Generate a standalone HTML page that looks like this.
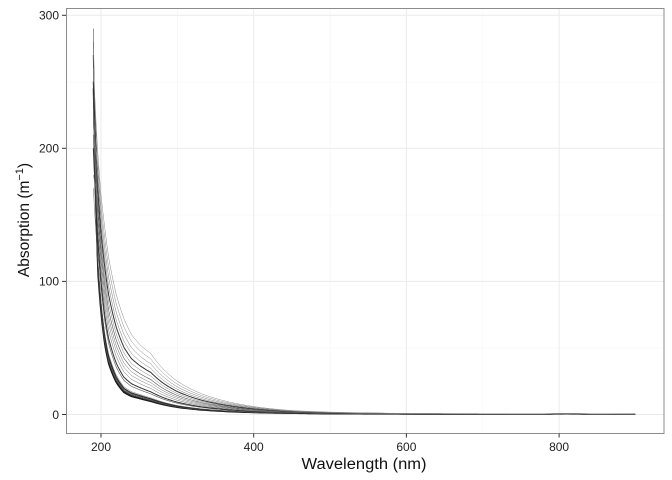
<!DOCTYPE html>
<html><head><meta charset="utf-8">
<style>
html,body{margin:0;padding:0;background:#fff;}
svg{display:block;font-family:"Liberation Sans","DejaVu Sans",sans-serif;}
</style></head>
<body>
<svg id="s" width="672" height="480" viewBox="0 0 672 480" xmlns="http://www.w3.org/2000/svg">
<rect x="0" y="0" width="672" height="480" fill="#fff"/>
<!-- minor grid -->
<g stroke="#f4f4f4" stroke-width="0.6">
<line x1="177.4" y1="8" x2="177.4" y2="433"/>
<line x1="330.1" y1="8" x2="330.1" y2="433"/>
<line x1="482.8" y1="8" x2="482.8" y2="433"/>
<line x1="66" y1="348" x2="664" y2="348"/>
<line x1="66" y1="215" x2="664" y2="215"/>
<line x1="66" y1="82" x2="664" y2="82"/>
</g>
<!-- major grid -->
<g stroke="#ebebeb" stroke-width="1">
<line x1="101" y1="8" x2="101" y2="433"/>
<line x1="253.7" y1="8" x2="253.7" y2="433"/>
<line x1="406.4" y1="8" x2="406.4" y2="433"/>
<line x1="559.1" y1="8" x2="559.1" y2="433"/>
<line x1="66" y1="414.5" x2="664" y2="414.5"/>
<line x1="66" y1="281.4" x2="664" y2="281.4"/>
<line x1="66" y1="148.3" x2="664" y2="148.3"/>
<line x1="66" y1="15.3" x2="664" y2="15.3"/>
</g>
<g id="curves" fill="none" stroke-linejoin="round"></g>
<rect x="66.5" y="8.5" width="597.5" height="425" fill="none" stroke="#8c8c8c" stroke-width="1"/>
<!-- ticks -->
<g stroke="#333" stroke-width="1">
<line x1="62" y1="414.5" x2="66" y2="414.5"/>
<line x1="62" y1="281.4" x2="66" y2="281.4"/>
<line x1="62" y1="148.3" x2="66" y2="148.3"/>
<line x1="62" y1="15.3" x2="66" y2="15.3"/>
<line x1="101" y1="433.5" x2="101" y2="437.5"/>
<line x1="253.7" y1="433.5" x2="253.7" y2="437.5"/>
<line x1="406.4" y1="433.5" x2="406.4" y2="437.5"/>
<line x1="559.1" y1="433.5" x2="559.1" y2="437.5"/>
</g>
<g font-size="12" fill="#222" text-anchor="end">
<text x="59" y="418.8">0</text>
<text x="59" y="285.7">100</text>
<text x="59" y="152.6">200</text>
<text x="59" y="19.6">300</text>
</g>
<g font-size="12" fill="#222" text-anchor="middle">
<text x="101" y="451">200</text>
<text x="253.7" y="451">400</text>
<text x="406.4" y="451">600</text>
<text x="559.1" y="451">800</text>
</g>
<text x="364" y="469" font-size="15.5" fill="#111" text-anchor="middle" textLength="125" lengthAdjust="spacingAndGlyphs">Wavelength (nm)</text>
<text transform="translate(29,220) rotate(-90)" font-size="15.5" fill="#111" text-anchor="middle">Absorption (m<tspan dy="-6" font-size="11">−1</tspan><tspan dy="6">)</tspan></text>
</svg>
<script>
(function(){
var L=[[196,105],[200,76],[205,52],[210,38],[220,24],[230,16.5],[240,13.5],[250,12],[260,10.5],[265,9.8],[270,9],[280,7.5],[300,5.3],[330,3.4],[360,2.3],[400,1.4],[450,0.85],[500,0.5],[600,0.3],[700,0.22],[780,0.25],[810,0.45],[840,0.25],[900,0.18]];
var H=[[196,195],[200,165],[205,140],[210,118],[220,90],[230,72],[240,60],[250,53],[260,48],[265,46],[270,42],[280,35],[300,25],[330,16],[360,10.5],[400,6],[450,3],[500,1.8],[600,0.8],[700,0.5],[780,0.5],[810,0.9],[840,0.5],[900,0.3]];
function f(P,l){for(var i=0;i<P.length-1;i++){if(l<=P[i+1][0]){var a=P[i],b=P[i+1];var u=(l-a[0])/(b[0]-a[0]);return Math.exp(Math.log(a[1])+u*(Math.log(b[1])-Math.log(a[1])));}}return P[P.length-1][1];}
function X(l){return 101+(l-200)*0.7635;}
function Y(a){return 414.5-a*1.3308;}
var C=[[0,245,1.2,'#111'],[0.03,270,1.0,'#222'],[0.05,230,0.7,'#444'],[0.07,210,0.6,'#555'],[0.09,290,0.6,'#555'],[0.12,250,1.0,'#222'],[0.16,170,0.5,'#666'],[0.3,240,0.6,'#555'],[0.36,200,1.0,'#333'],[0.45,260,0.5,'#666'],[0.52,220,0.5,'#777'],[0.58,280,0.5,'#666'],[0.64,240,0.6,'#555'],[0.7,180,0.5,'#777'],[0.76,250,1.0,'#333'],[0.82,230,0.5,'#777'],[0.88,270,0.5,'#777'],[0.94,210,0.5,'#888'],[1.0,260,0.5,'#888']];
var g=document.getElementById('curves'),ns='http://www.w3.org/2000/svg';
C.forEach(function(c){
 var t=c[0],p=c[1];
 function A(l){return Math.exp((1-t)*Math.log(f(L,l))+t*Math.log(f(H,l)));}
 var a196=A(196),d='';
 for(var l=190;l<=900;l+=(l<300?1:4)){
  var v;
  if(l<196){var u=(l-190)/6;v=Math.exp(Math.log(p)+u*(Math.log(a196)-Math.log(p)));}
  else v=A(l);
  d+=(d?'L':'M')+X(l).toFixed(2)+' '+Y(v).toFixed(2);
 }
 var e=document.createElementNS(ns,'path');
 e.setAttribute('d',d);e.setAttribute('stroke',c[3]);e.setAttribute('stroke-width',c[2]);
 g.appendChild(e);
});
})();
</script>
</body></html>
